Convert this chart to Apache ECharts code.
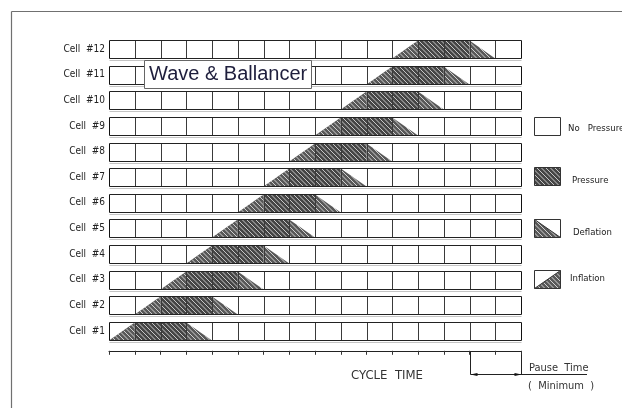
<!DOCTYPE html>
<html><head><meta charset="utf-8">
<script src="https://cdn.jsdelivr.net/npm/echarts@6/dist/echarts.min.js"></script>
<style>html,body{margin:0;padding:0;background:#fff}#c{width:622px;height:408px}</style>
</head><body><div id="c"></div>
<script>
// ---- data ----
const cells = ['Cell  #1','Cell  #2','Cell  #3','Cell  #4','Cell  #5','Cell  #6','Cell  #7','Cell  #8','Cell  #9','Cell  #10','Cell  #11','Cell  #12'];
const inflationCol = [0,1,2,3,4,5,6,7,8,9,10,11];
const pressureFrom = [1,2,3,4,5,6,7,8,9,10,11,12];
const pressureTo   = [3,4,5,6,7,8,9,10,11,12,13,14];
const deflationCol = [3,4,5,6,7,8,9,10,11,12,13,14];
const columnCount = 16;
const pauseFrom = 14, pauseTo = 16;
const legendItems = ['No   Pressure','Pressure','Deflation','Inflation'];
const titleText = 'Wave & Ballancer';
const axisTitle = 'CYCLE  TIME';
const pauseLabel = 'Pause  Time';
const pauseSub = '(  Minimum  )';

// ---- layout ----
const gridTop = 36.2, gridHeight = 307.6, gridLeft = 109, gridWidth = 412, axisOffset = 7;
const NARROW = "'Liberation Sans Narrow','DejaVu Sans Condensed','Liberation Sans',sans-serif";
const sp = v => Math.round(v) + 0.5;

// hatched polygon: solid base + "\" diagonal light lines clipped to the polygon
function hatch(points, base, stripe, step, lw) {
  const out = [{type:'polygon', shape:{points}, style:{fill:base}}];
  const ks = points.map(p => p[1] - p[0]);
  const kMin = Math.ceil(Math.min(...ks) / step) * step, kMax = Math.max(...ks);
  for (let k = kMin; k <= kMax; k += step) {
    const hits = [];
    for (let i = 0; i < points.length; i++) {
      const a = points[i], b = points[(i + 1) % points.length];
      const fa = a[1] - a[0] - k, fb = b[1] - b[0] - k;
      if ((fa <= 0 && fb >= 0) || (fa >= 0 && fb <= 0)) {
        if (fa === fb) continue;
        const t = fa / (fa - fb);
        hits.push([a[0] + t * (b[0] - a[0]), a[1] + t * (b[1] - a[1])]);
      }
    }
    if (hits.length < 2) continue;
    hits.sort((p, q) => p[0] - q[0]);
    const p = hits[0], q = hits[hits.length - 1];
    if (q[0] - p[0] < 0.5) continue;
    out.push({type:'line', shape:{x1:p[0], y1:p[1], x2:q[0], y2:q[1]}, style:{stroke:stripe, lineWidth:lw}});
  }
  return out;
}
const PRESS = ['#454545', '#d6d6d6', 4.5, 0.9];
const TRI = ['#585858', '#dedede', 4.5, 0.9];

const rows = cells.map((c, i) => [i, inflationCol[i], pressureFrom[i], pressureTo[i], deflationCol[i]]);

function renderRow(params, api) {
  const r = api.value(0);
  const ic = api.value(1), pf = api.value(2), pt = api.value(3), dc = api.value(4);
  const c = api.coord([0, r]);
  const h = api.size([0, 1])[1] * 0.351;
  const top = sp(c[1] - h), bot = sp(c[1] + h);
  const X = v => api.coord([v, r])[0];
  let ch = [];
  ch.push({type:'rect', shape:{x:X(0), y:top, width:X(columnCount)-X(0), height:bot-top}, style:{fill:'#fff'}});
  ch = ch.concat(hatch([[X(ic), bot],[X(ic+1), top],[X(ic+1), bot]], ...TRI));
  ch = ch.concat(hatch([[X(pf), top],[X(pt), top],[X(pt), bot],[X(pf), bot]], ...PRESS));
  ch = ch.concat(hatch([[X(dc), top],[X(dc+1), bot],[X(dc), bot]], ...TRI));
  for (let k = 0; k <= columnCount; k++) {
    const x = sp(X(k));
    ch.push({type:'line', shape:{x1:x, y1:top, x2:x, y2:bot}, style:{stroke:(k===0||k===columnCount)?'#111':'#3a3a3a', lineWidth:1}});
  }
  ch.push({type:'line', shape:{x1:sp(X(0)), y1:top, x2:sp(X(columnCount)), y2:top}, style:{stroke:'#222', lineWidth:1}});
  ch.push({type:'line', shape:{x1:sp(X(0)), y1:bot, x2:sp(X(columnCount)), y2:bot}, style:{stroke:'#222', lineWidth:1}});
  ch.push({type:'line', shape:{x1:sp(X(0)), y1:bot+2, x2:sp(X(columnCount)), y2:bot+2}, style:{stroke:'#c4c4c4', lineWidth:1}});
  return {type:'group', children: ch};
}

const chart = echarts.init(document.getElementById('c'), null, {renderer:'canvas'});
chart.setOption({
  animation: false,
  backgroundColor: '#fff',
  grid: {left: gridLeft, top: gridTop, width: gridWidth, height: gridHeight, containLabel: false},
  xAxis: {type:'value', min:0, max:columnCount, interval:1, offset:axisOffset,
    axisLine:{show:true, lineStyle:{color:'#222', width:1}},
    axisTick:{show:true, length:4, lineStyle:{color:'#333'}},
    axisLabel:{show:false}, splitLine:{show:false}},
  yAxis: {type:'category', data:cells,
    axisLine:{show:false}, axisTick:{show:false}, splitLine:{show:false},
    axisLabel:{margin:4, fontSize:10, color:'#222', fontFamily:NARROW}},
  series: [{type:'custom', renderItem: renderRow, data: rows, encode:{x:[1,2,3,4], y:0}, clip:false, silent:true}]
});

// ---- annotations ----
const xPix = v => chart.convertToPixel({xAxisIndex:0}, v);
const axisY = Math.round(gridTop + gridHeight + axisOffset) + 0.5;
const xa = sp(xPix(pauseFrom)), xb = sp(xPix(pauseTo));
const arrowY = 374.5;
let g = [];
g.push({type:'line', shape:{x1:11.5, y1:11.5, x2:622, y2:11.5}, style:{stroke:'#707070', lineWidth:1.2}});
g.push({type:'line', shape:{x1:11.5, y1:11.5, x2:11.5, y2:408}, style:{stroke:'#707070', lineWidth:1.2}});
// title box
g.push({type:'rect', shape:{x:144.5, y:60.5, width:167, height:28}, style:{fill:'#fff', stroke:'#666', lineWidth:1}, z:10});
g.push({type:'text', x:149, y:74.5, style:{text:titleText, fontSize:20, fontFamily:"'Liberation Sans',Arial,sans-serif", fill:'#1e1e3c', verticalAlign:'middle'}, z:11});
// legend
const lx = 534.5, lw = 26, hh = 18;
const boxes = [[117.5, 129, 568], [167.5, 181, 572], [219.5, 233, 573], [270.5, 279, 570]];
boxes.forEach((b, i) => {
  const y = b[0];
  const parts = [];
  parts.push({type:'rect', shape:{x:lx, y:y, width:lw, height:hh}, style:{fill:'#fff'}});
  if (i === 1) parts.push(...hatch([[lx,y],[lx+lw,y],[lx+lw,y+hh],[lx,y+hh]], ...PRESS));
  if (i === 2) parts.push(...hatch([[lx,y],[lx+lw,y+hh],[lx,y+hh]], ...TRI));
  if (i === 3) parts.push(...hatch([[lx,y+hh],[lx+lw,y],[lx+lw,y+hh]], ...TRI));
  parts.push({type:'rect', shape:{x:lx, y:y, width:lw, height:hh}, style:{fill:'none', stroke:'#333'}});
  if (i === 2) parts.push({type:'line', shape:{x1:lx, y1:y, x2:lx+lw, y2:y+hh}, style:{stroke:'#333'}});
  if (i === 3) parts.push({type:'line', shape:{x1:lx, y1:y+hh, x2:lx+lw, y2:y}, style:{stroke:'#333'}});
  g.push({type:'group', children: parts});
  g.push({type:'text', x:b[2], y:b[1], style:{text:legendItems[i], fontSize:9.5, fontFamily:NARROW, fill:'#222', verticalAlign:'middle'}});
});
// cycle time + pause
g.push({type:'text', x:387, y:376, style:{text:axisTitle, fontSize:13, fontFamily:NARROW, fill:'#333', align:'center', verticalAlign:'middle'}});
g.push({type:'line', shape:{x1:xa, y1:axisY, x2:xa, y2:arrowY}, style:{stroke:'#222'}});
g.push({type:'line', shape:{x1:xb, y1:axisY, x2:xb, y2:arrowY}, style:{stroke:'#222'}});
g.push({type:'line', shape:{x1:xa, y1:arrowY, x2:587, y2:arrowY}, style:{stroke:'#222'}});
g.push({type:'polygon', shape:{points:[[xa, arrowY],[xa+7, arrowY-1.5],[xa+7, arrowY+1.5]]}, style:{fill:'#111'}});
g.push({type:'polygon', shape:{points:[[xb, arrowY],[xb-7, arrowY-1.5],[xb-7, arrowY+1.5]]}, style:{fill:'#111'}});
g.push({type:'text', x:529, y:368, style:{text:pauseLabel, fontSize:11, fontFamily:NARROW, fill:'#333', verticalAlign:'middle'}});
g.push({type:'text', x:528, y:386, style:{text:pauseSub, fontSize:11, fontFamily:NARROW, fill:'#333', verticalAlign:'middle'}});
chart.setOption({graphic: g});
</script></body></html>
